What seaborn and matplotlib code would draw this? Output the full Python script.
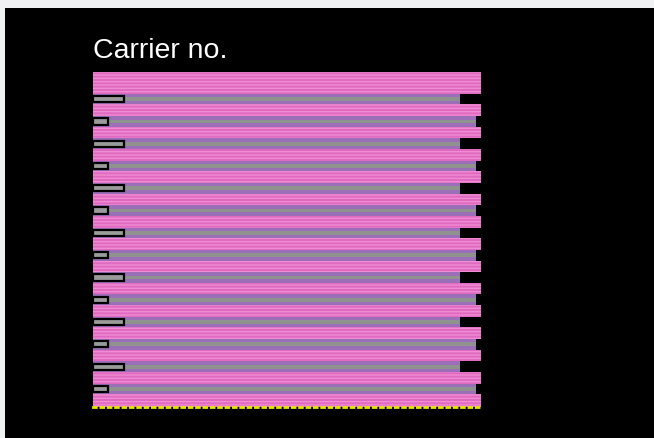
import matplotlib
matplotlib.use("Agg")
import matplotlib.pyplot as plt
import seaborn as sns

# carrier rows and bar lengths (percent of full width)
carriers = [1, 2, 3, 4, 5, 6, 7, 8, 9, 10, 11, 12, 13, 14]
band_len = [94.6, 98.8, 94.6, 98.8, 94.6, 98.8, 94.6, 98.8, 94.6, 98.8, 94.6, 98.8, 94.6, 98.8]
stub_len = [8.0, 3.9, 8.0, 3.9, 8.0, 3.9, 8.0, 3.9, 8.0, 3.9, 8.0, 3.9, 8.0, 3.9]
full_len = [100] * len(carriers)
fill_pos = [7.3]
fill_len = [100]

sns.set_style("dark")
plt.rcParams['font.family'] = ['Liberation Sans', 'DejaVu Sans']
plt.rcParams['hatch.linewidth'] = 1.0

fig = plt.figure(figsize=(6.54, 4.39), dpi=100, facecolor='#f0f1f3')
bg = fig.add_axes([5 / 654, 0, 1 - 5 / 654, 1 - 9 / 439])
bg.set_facecolor('black')
bg.set_xticks([])
bg.set_yticks([])
for s in bg.spines.values():
    s.set_visible(False)

ax = fig.add_axes([93 / 654, 31 / 439, 388 / 654, 335 / 439])
ax.set_facecolor('black')

# striped pink background
sns.barplot(x=fill_len, y=fill_pos, orient='h', native_scale=True, width=16,
            color='#e06ac0', edgecolor='#f08cd4', linewidth=0, hatch='-----',
            saturation=1, ax=ax)
# band rows
sns.barplot(x=full_len, y=carriers, orient='h', native_scale=True, width=0.48,
            color='black', saturation=1, linewidth=0, ax=ax)
sns.barplot(x=band_len, y=carriers, orient='h', native_scale=True, width=0.48,
            color='#9a6fb8', saturation=1, linewidth=0, ax=ax)
sns.barplot(x=band_len, y=carriers, orient='h', native_scale=True, width=0.17,
            color='#8f928f', saturation=1, linewidth=0, ax=ax)
sns.barplot(x=stub_len, y=carriers, orient='h', native_scale=True, width=0.28,
            color='#9a9c9a', saturation=1, edgecolor='black', linewidth=1.6, ax=ax)

ax.set_xlim(0, 100)
ax.set_ylim(14.81, -0.216)
ax.set_xticks([])
ax.set_yticks([])
ax.set_xlabel('')
ax.set_ylabel('')
ax.grid(False)
for side in ['top', 'right', 'left']:
    ax.spines[side].set_visible(False)
ax.spines['bottom'].set_color('#e6e600')
ax.spines['bottom'].set_linestyle(':')
ax.spines['bottom'].set_linewidth(2)

ax.set_title('Carrier no.', loc='left', color='white', fontsize=20.5, pad=11)

fig.savefig('out.png', dpi=100, facecolor=fig.get_facecolor())
